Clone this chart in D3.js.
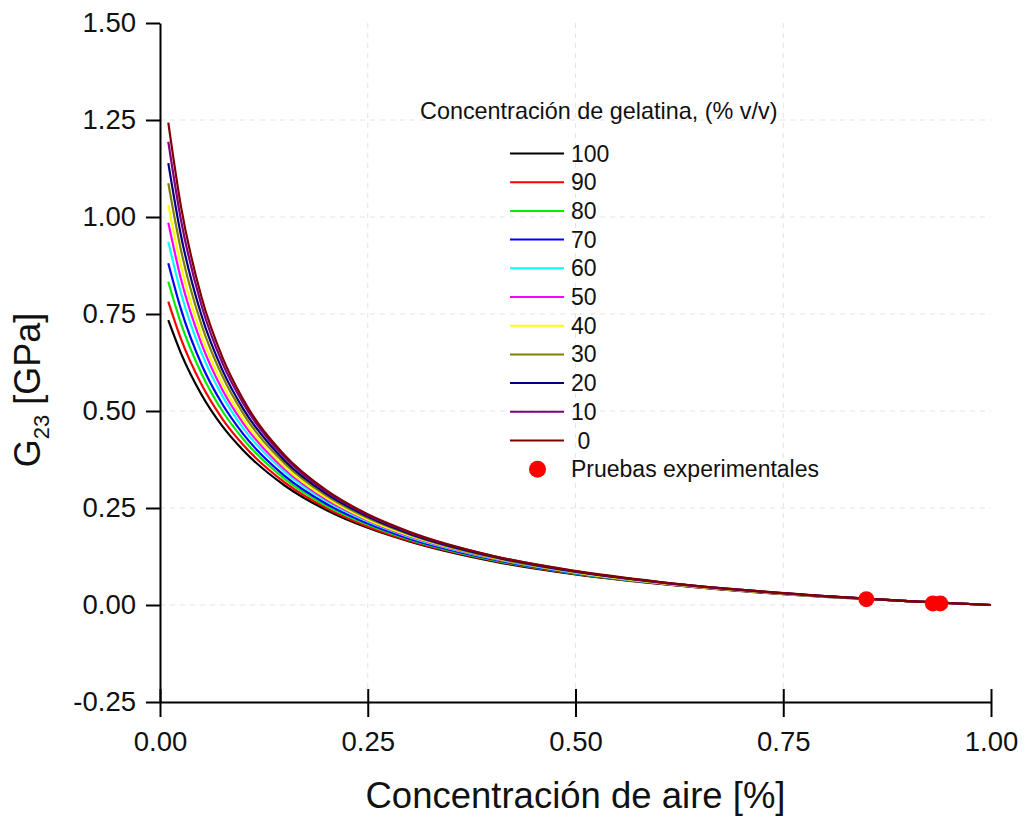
<!DOCTYPE html>
<html><head><meta charset="utf-8">
<script src="https://cdn.jsdelivr.net/npm/d3@7"></script>
<style>body{margin:0;background:#fff} text{font-family:"Liberation Sans",Arial,sans-serif;fill:#111}</style>
</head><body><svg id="c" width="1025" height="816"></svg>
<script>
// ---- data ----
const airX = [0.01,0.025,0.05,0.075,0.1,0.15,0.2,0.25,0.3,0.4,0.5,0.6,0.8,0.9,1.0];
const g100 = [0.734,0.650,0.542,0.461,0.399,0.308,0.245,0.199,0.164,0.113,0.079,0.055,0.021,0.010,0];
const g90  = [0.782,0.687,0.568,0.480,0.413,0.316,0.250,0.202,0.166,0.115,0.080,0.055,0.022,0.010,0];
const g80  = [0.833,0.727,0.596,0.500,0.428,0.325,0.256,0.207,0.169,0.116,0.081,0.056,0.022,0.010,0];
const g70  = [0.881,0.764,0.620,0.518,0.441,0.333,0.261,0.210,0.171,0.118,0.082,0.056,0.022,0.010,0];
const g60  = [0.936,0.806,0.649,0.539,0.456,0.343,0.268,0.215,0.175,0.120,0.083,0.057,0.022,0.010,0];
const g50  = [0.985,0.842,0.673,0.555,0.469,0.350,0.272,0.218,0.177,0.121,0.084,0.057,0.022,0.010,0];
const g40  = [1.031,0.876,0.694,0.570,0.479,0.356,0.276,0.220,0.179,0.122,0.084,0.057,0.022,0.010,0];
const g30  = [1.087,0.917,0.722,0.590,0.494,0.365,0.282,0.224,0.182,0.123,0.085,0.058,0.022,0.010,0];
const g20  = [1.139,0.955,0.746,0.606,0.506,0.372,0.287,0.228,0.184,0.125,0.086,0.059,0.023,0.010,0];
const g10  = [1.194,0.995,0.772,0.624,0.520,0.380,0.292,0.232,0.187,0.127,0.087,0.059,0.023,0.010,0];
const g0   = [1.243,1.030,0.793,0.639,0.530,0.386,0.296,0.234,0.189,0.127,0.088,0.060,0.023,0.010,0];
const seriesNames = ["100","90","80","70","60","50","40","30","20","10"," 0"];
const seriesValues = [g100,g90,g80,g70,g60,g50,g40,g30,g20,g10,g0];
const seriesColors = ["#000000","#ff0000","#00ee00","#0000ff","#00ffff","#ff00ff","#ffff00","#808000","#000080","#800080","#800000"];
const expX = [0.850,0.930,0.939];
const expY = [0.015,0.004,0.004];
const xTicks = [0,0.25,0.5,0.75,1.0];
const xTickLabels = ["0.00","0.25","0.50","0.75","1.00"];
const yTicks = [-0.25,0,0.25,0.5,0.75,1.0,1.25,1.5];
const yTickLabels = ["-0.25","0.00","0.25","0.50","0.75","1.00","1.25","1.50"];
const legendTitle = "Concentración de gelatina, (% v/v)";
const expLabel = "Pruebas experimentales";
const xTitle = "Concentración de aire [%]";

// ---- drawing ----
const svg = d3.select("#c");
const L = 160, R = 991, T = 23, B = 702;
const x = d3.scaleLinear().domain([0,1]).range([L,R]);
const y = d3.scaleLinear().domain([-0.25,1.5]).range([B,T]);

// grid
const grid = svg.append("g").attr("stroke","#e4e4e4").attr("stroke-width",1).attr("stroke-dasharray","5,5");
grid.selectAll("line.v").data([0.25,0.5,0.75]).join("line")
  .attr("x1",d=>x(d)).attr("x2",d=>x(d)).attr("y1",T).attr("y2",B);
grid.selectAll("line.h").data([0,0.25,0.5,0.75,1.0,1.25]).join("line")
  .attr("x1",L).attr("x2",R).attr("y1",d=>y(d)).attr("y2",d=>y(d));

// curves
const line = d3.line().x(d=>x(d[0])).y(d=>y(d[1])).curve(d3.curveMonotoneX);
seriesValues.forEach((vals,i)=>{
  svg.append("path").datum(airX.map((a,j)=>[a,vals[j]]))
    .attr("d",line).attr("fill","none").attr("stroke",seriesColors[i]).attr("stroke-width",2.2);
});

// experimental points
svg.selectAll("circle.exp").data(expX.map((a,i)=>[a,expY[i]])).join("circle")
  .attr("cx",d=>x(d[0])).attr("cy",d=>y(d[1])).attr("r",8).attr("fill","#ff0000");

// axes
const yAxis = svg.append("g").attr("transform",`translate(${L},0)`)
  .call(d3.axisLeft(y).tickValues(yTicks).tickFormat((d,i)=>yTickLabels[i]).tickSize(14).tickSizeOuter(0).tickPadding(10));
const xAxis = svg.append("g").attr("transform",`translate(0,${B})`)
  .call(d3.axisBottom(x).tickValues(xTicks).tickFormat((d,i)=>xTickLabels[i]).tickSize(15).tickSizeOuter(0).tickPadding(14));
xAxis.selectAll(".tick line").attr("y1",-13);
[xAxis,yAxis].forEach(a=>{
  a.select(".domain").attr("stroke","#000").attr("stroke-width",2);
  a.selectAll(".tick line").attr("stroke","#000").attr("stroke-width",2);
  a.selectAll(".tick text").attr("font-size",27.5).attr("font-family","'Liberation Sans',Arial,sans-serif").attr("fill","#111");
});

// axis titles
svg.append("text").attr("x",(L+R)/2).attr("y",808).attr("text-anchor","middle")
  .attr("font-size",36.5).text(xTitle);
const yt = svg.append("text").attr("transform","translate(40,390) rotate(-90)").attr("text-anchor","middle").attr("font-size",36);
yt.append("tspan").text("G");
yt.append("tspan").attr("font-size",22).attr("dy",9).text("23");
yt.append("tspan").attr("dy",-9).text(" [GPa]");

// legend
svg.append("text").attr("x",420).attr("y",119).attr("font-size",23.4).text(legendTitle);
const rowY = i => 153.5 + i*28.7;
seriesNames.forEach((n,i)=>{
  svg.append("line").attr("x1",510).attr("x2",564).attr("y1",rowY(i)).attr("y2",rowY(i))
    .attr("stroke",seriesColors[i]).attr("stroke-width",2);
  svg.append("text").attr("x",571).attr("y",rowY(i)+8).attr("font-size",23).attr("xml:space","preserve").text(n);
});
svg.append("circle").attr("cx",537.5).attr("cy",rowY(11)).attr("r",8.5).attr("fill","#ff0000");
svg.append("text").attr("x",571).attr("y",rowY(11)+8).attr("font-size",23).text(expLabel);
</script></body></html>
